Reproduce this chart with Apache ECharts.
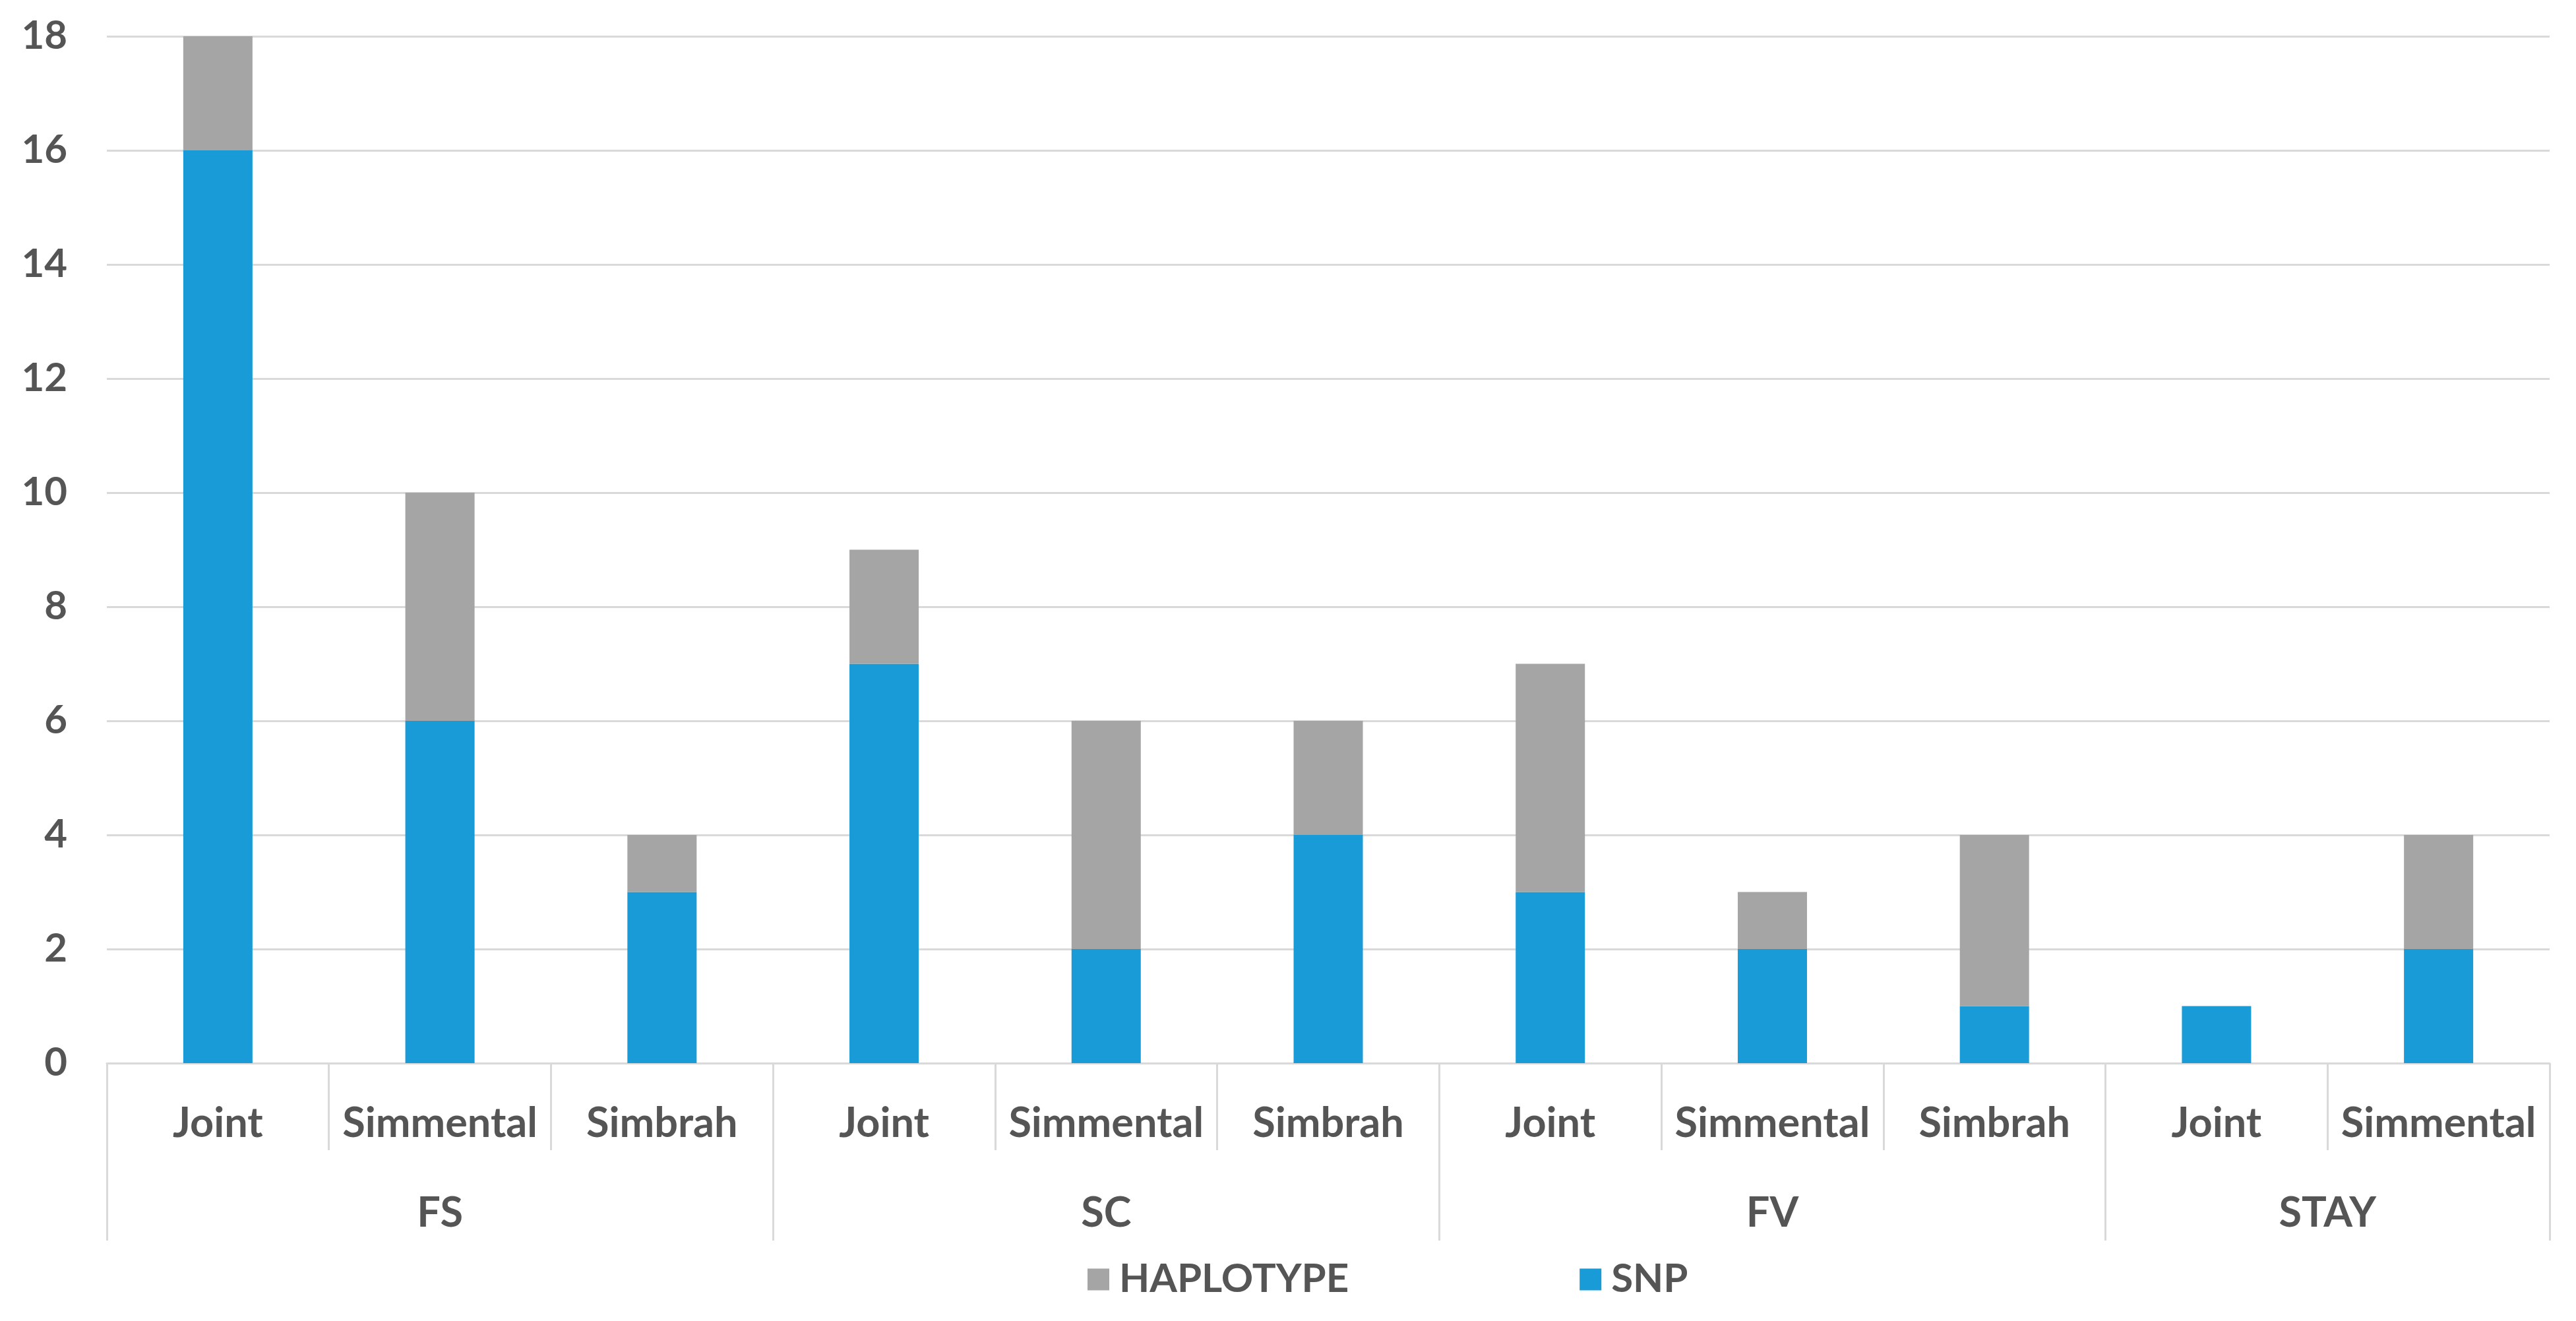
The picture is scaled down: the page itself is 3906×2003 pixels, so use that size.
<!DOCTYPE html>
<html>
<head>
<meta charset="utf-8">
<script src="https://cdn.jsdelivr.net/npm/echarts@6/dist/echarts.min.js"></script>
<style>
html,body{margin:0;padding:0;background:#fff;}
#chart{width:3906px;height:2003px;}
</style>
</head>
<body>
<div id="chart"></div>
<script>
const categories = ['Joint','Simmental','Simbrah','Joint','Simmental','Simbrah','Joint','Simmental','Simbrah','Joint','Simmental'];
const groupNames = ['FS','SC','FV','STAY'];
const groupSizes = [3,3,3,2];
const snpValues = [16,6,3,7,2,4,3,2,1,1,2];
const haplotypeValues = [2,4,1,2,4,2,4,1,3,0,2];
const yTicks = {min:0, max:18, interval:2};

// group boundaries and centers derived from group sizes
const groupBounds = [0];
groupSizes.forEach(s => groupBounds.push(groupBounds[groupBounds.length-1] + s));
const groupCenters = groupSizes.map((s,i) => groupBounds[i] + s/2);

const txt = '#555555';
const lineC = '#d9d9d9';
const font = 'Lato';
const fw = 'bold';

const chart = echarts.init(document.getElementById('chart'));
chart.setOption({
  animation:false,
  backgroundColor:'#ffffff',
  textStyle:{fontFamily:font},
  legend:{
    data:['HAPLOTYPE','SNP'],
    left:1644, top:1905,
    icon:'rect', itemWidth:33, itemHeight:33, itemGap:350,
    textStyle:{fontSize:60, color:txt, fontFamily:font, fontWeight:fw, padding:[0,0,0,10]}
  },
  grid:[
    {left:162, right:40, top:55, bottom:391, containLabel:false},
    {left:162, right:40, top:55, bottom:391, containLabel:false}
  ],
  xAxis:[
    {
      type:'category', gridIndex:0, data:categories, boundaryGap:true,
      axisLine:{show:true, lineStyle:{color:lineC, width:3}},
      axisTick:{show:true, alignWithLabel:false, length:132, interval:0, lineStyle:{color:lineC, width:3}},
      axisLabel:{interval:0, fontSize:63, color:txt, margin:60, fontFamily:font, fontWeight:fw}
    },
    {
      type:'value', gridIndex:1, min:0, max:groupBounds[groupBounds.length-1],
      axisLine:{show:false},
      splitLine:{show:false},
      axisTick:{show:true, length:269, customValues:groupBounds, lineStyle:{color:lineC, width:3}},
      axisLabel:{
        show:true, customValues:groupCenters, fontSize:63, color:txt, margin:196, fontFamily:font, fontWeight:fw,
        formatter:function(v){
          let best=0, d=1e9;
          groupCenters.forEach((c,i)=>{ if(Math.abs(c-v)<d){d=Math.abs(c-v);best=i;} });
          return groupNames[best];
        }
      }
    }
  ],
  yAxis:[
    {
      type:'value', gridIndex:0, min:yTicks.min, max:yTicks.max, interval:yTicks.interval,
      axisLine:{show:false}, axisTick:{show:false},
      splitLine:{show:true, lineStyle:{color:lineC, width:3}},
      axisLabel:{fontSize:60, color:txt, margin:60, fontFamily:font, fontWeight:fw}
    },
    {type:'value', gridIndex:1, show:false, min:0, max:1}
  ],
  series:[
    {name:'SNP', type:'bar', stack:'total', xAxisIndex:0, yAxisIndex:0, data:snpValues, barWidth:105,
     itemStyle:{color:'#189BD7'}},
    {name:'HAPLOTYPE', type:'bar', stack:'total', xAxisIndex:0, yAxisIndex:0, data:haplotypeValues, barWidth:105,
     itemStyle:{color:'#A5A5A5'}}
  ]
});
</script>
</body>
</html>
